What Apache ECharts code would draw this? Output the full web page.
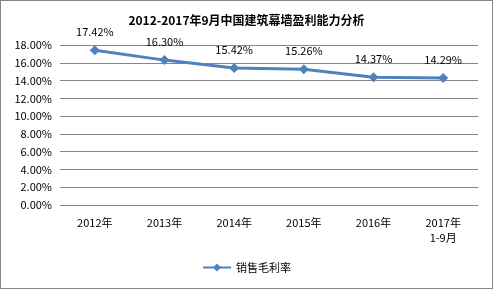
<!DOCTYPE html>
<html><head><meta charset="utf-8">
<script src="https://cdn.jsdelivr.net/npm/echarts@6/dist/echarts.min.js"></script>
<style>html,body{margin:0;padding:0;background:#fff}#c{width:493px;height:289px;box-sizing:border-box;border:1px solid #868686}</style>
</head><body><div id="c"></div>
<script>
const titleText = '2012-2017年9月中国建筑幕墙盈利能力分析';
const categories = ['2012年','2013年','2014年','2015年','2016年','2017年\n1-9月'];
const seriesName = '销售毛利率';
const values = [17.42, 16.30, 15.42, 15.26, 14.37, 14.29];
const yMin = 0, yMax = 18, yStep = 2;
const font = '"Noto Sans CJK SC", "Liberation Sans", sans-serif';
const chart = echarts.init(document.getElementById('c'));
chart.setOption({
  animation: false,
  title: { text: titleText, left: 'center', top: 8, textStyle: { fontSize: 12, fontWeight: 'bold', color: '#000', fontFamily: font } },
  legend: { data: [seriesName], bottom: 10, left: 'center', itemWidth: 28, itemHeight: 10, itemGap: 4, textStyle: { fontSize: 11, color: '#000', fontFamily: font } },
  grid: { left: 59, right: 14, top: 44, bottom: 83 },
  xAxis: { type: 'category', data: categories, boundaryGap: true,
    axisLine: { lineStyle: { color: '#868686' } }, axisTick: { show: false },
    axisLabel: { fontSize: 11, color: '#000', fontFamily: font, margin: 10, lineHeight: 15 } },
  yAxis: { type: 'value', min: yMin, max: yMax, interval: yStep,
    axisLine: { show: false }, axisTick: { show: false },
    splitLine: { lineStyle: { color: '#868686' } },
    axisLabel: { fontSize: 11, color: '#000', fontFamily: font, margin: 8, formatter: v => v.toFixed(2) + '%' } },
  series: [{ name: seriesName, type: 'line', data: values, symbol: 'diamond', symbolSize: 10,
    lineStyle: { width: 3, color: '#4F81BD' }, itemStyle: { color: '#4F81BD' },
    label: { show: true, position: 'top', distance: 8, fontSize: 11, color: '#000', fontFamily: font, formatter: p => p.value.toFixed(2) + '%' } }]
});
</script></body></html>
